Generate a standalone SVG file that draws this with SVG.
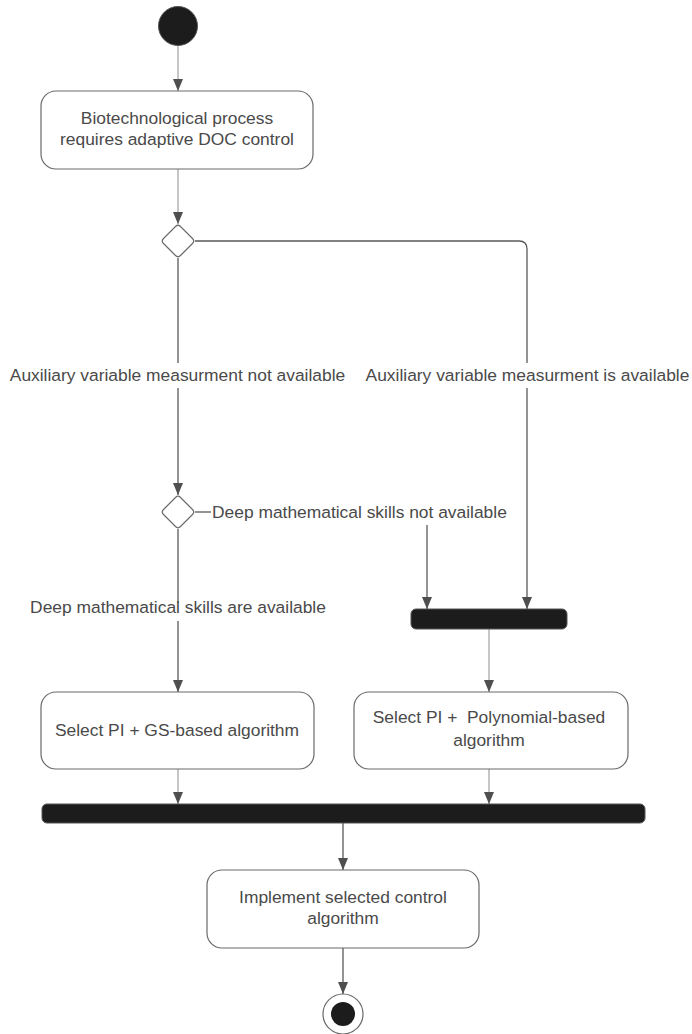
<svg xmlns="http://www.w3.org/2000/svg" width="692" height="1034" viewBox="0 0 692 1034">
<style>
.t{font-family:"Liberation Sans",Arial,sans-serif;font-size:17.4px;fill:#4a4a4a;white-space:pre}
.m{text-anchor:middle}
.box{fill:#fff;stroke:#6a6a6a;stroke-width:1.2}
.dia{fill:#fff;stroke:#6a6a6a;stroke-width:1.2}
.dark{fill:#1c1c1c;stroke:#555;stroke-width:1}
.ln{fill:none;stroke:#5a5a5a;stroke-width:1.3}
.lt{fill:none;stroke:#a8a8a8;stroke-width:1.3}
</style>
<defs>
<marker id="ah" viewBox="0 0 12 10" refX="12" refY="5" markerWidth="12" markerHeight="11" markerUnits="userSpaceOnUse" orient="auto">
<path d="M0,0 L12,5 L0,10 z" fill="#4f4f4f"/>
</marker>
</defs>
<rect width="692" height="1034" fill="#fff"/>
<g id="connectors">
<path class="lt" d="M178,46 V91" marker-end="url(#ah)"/>
<path class="lt" d="M178,169 V224" marker-end="url(#ah)"/>
<path class="ln" d="M195,241 H519 Q527,241 527,249 V363"/>
<path class="ln" d="M527,388 V609" marker-end="url(#ah)"/>
<path class="ln" d="M178,258 V363"/>
<path class="ln" d="M178,388 V495" marker-end="url(#ah)"/>
<path class="ln" d="M195,512 H211"/>
<path class="ln" d="M427,525 V609" marker-end="url(#ah)"/>
<path class="ln" d="M178,529 V603"/>
<path class="ln" d="M178,621 V692" marker-end="url(#ah)"/>
<path class="lt" d="M489,629 V692" marker-end="url(#ah)"/>
<path class="lt" d="M178,769 V804" marker-end="url(#ah)"/>
<path class="lt" d="M489,769 V804" marker-end="url(#ah)"/>
<path class="ln" d="M343,823 V870" marker-end="url(#ah)"/>
<path class="ln" d="M343,948 V994" marker-end="url(#ah)"/>
</g>
<g id="start"><circle cx="178" cy="26" r="19.5" class="dark"/></g>
<g id="n1">
<rect class="box" x="41" y="91" width="272" height="78" rx="15"/>
<text class="t m" x="177" y="124">Biotechnological process</text>
<text class="t m" x="177" y="145">requires adaptive DOC control</text>
</g>
<g id="d1"><path class="dia" d="M175.5,226.5 Q178,224 180.5,226.5 L192.5,238.5 Q195,241 192.5,243.5 L180.5,255.5 Q178,258 175.5,255.5 L163.5,243.5 Q161,241 163.5,238.5 Z"/></g>
<g id="labels">
<text class="t m" x="177.5" y="381">Auxiliary variable measurment not available</text>
<text class="t m" x="527.5" y="381">Auxiliary variable measurment is available</text>
<text class="t" x="212" y="518">Deep mathematical skills not available</text>
<text class="t m" x="178" y="613">Deep mathematical skills are available</text>
</g>
<g id="d2"><path class="dia" d="M175.5,497.5 Q178,495 180.5,497.5 L192.5,509.5 Q195,512 192.5,514.5 L180.5,526.5 Q178,529 175.5,526.5 L163.5,514.5 Q161,512 163.5,509.5 Z"/></g>
<g id="bar1"><rect class="dark" x="411" y="609" width="156" height="20" rx="5"/></g>
<g id="n2">
<rect class="box" x="41" y="692" width="273" height="77" rx="15"/>
<text class="t m" x="177" y="736">Select PI + GS-based algorithm</text>
</g>
<g id="n3">
<rect class="box" x="354" y="692" width="274" height="77" rx="15"/>
<text class="t m" x="489" y="723">Select PI +  Polynomial-based</text>
<text class="t m" x="489" y="746">algorithm</text>
</g>
<g id="bar2"><rect class="dark" x="42" y="804" width="603" height="19" rx="5"/></g>
<g id="n4">
<rect class="box" x="207" y="870" width="272" height="78" rx="15"/>
<text class="t m" x="343" y="903">Implement selected control</text>
<text class="t m" x="343" y="924">algorithm</text>
</g>
<g id="end">
<circle cx="343" cy="1014" r="20" fill="#fff" stroke="#6a6a6a" stroke-width="1.2"/>
<circle cx="343" cy="1014" r="12" fill="#1c1c1c"/>
</g>
</svg>
